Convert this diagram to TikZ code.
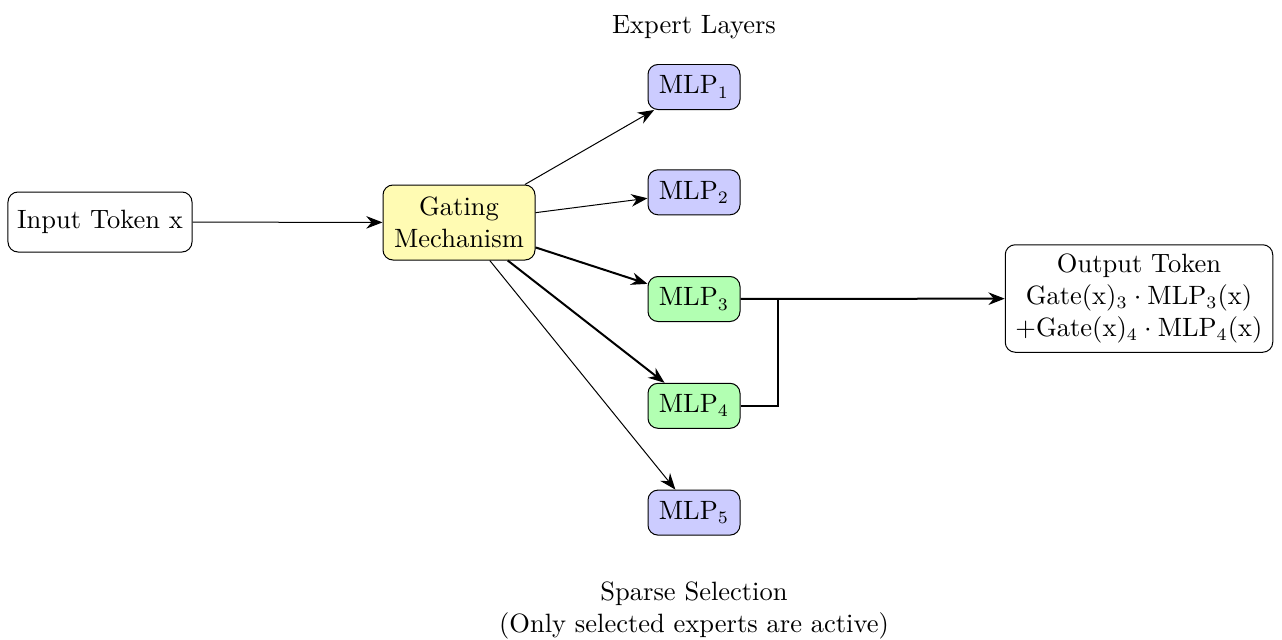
\documentclass[tikz,border=0pt]{standalone}
\usetikzlibrary{arrows.meta}
\begin{document}
\begin{tikzpicture}[x=0.4pt,y=-0.4pt,
  every node/.style={font=\fontsize{10.6pt}{12.7pt}\selectfont},
  box/.style={draw=black, rounded corners=4pt, align=center, inner sep=2pt},
  expert/.style={box, fill=blue!20, minimum width=36.8pt, minimum height=18pt},
  active/.style={box, fill=green!30, minimum width=36.8pt, minimum height=18pt},
  link/.style={-{Stealth[length=6.5pt,width=5pt]}},
  strong/.style={link, thick}]
\useasboundingbox (0,0) rectangle (1282,640);

\node[box, minimum width=73.6pt, minimum height=24pt] (in) at (100,222) {Input Token x};
\node[box, fill=yellow!30, minimum width=60.8pt, minimum height=30pt] (gate) at (459,222.5) {Gating\\Mechanism};

\node (title) at (694,27) {Expert Layers};
\node[expert] (m1) at (694,87) {MLP$_1$};
\node[expert] (m2) at (694,192.3) {MLP$_2$};
\node[active] (m3) at (694,299) {MLP$_3$};
\node[active] (m4) at (694,405.8) {MLP$_4$};
\node[expert] (m5) at (694,512.6) {MLP$_5$};

\node[box, minimum width=107pt, minimum height=43pt] (out) at (1139,298.5)
  {Output Token\\
   Gate(x)$_3\cdot{}$MLP$_3$(x)\\
   +Gate(x)$_4\cdot{}$MLP$_4$(x)};

\node[align=center] (note) at (694,610.5) {Sparse Selection\\(Only selected experts are active)};

\draw[link] (in) -- (gate);
\draw[link] (gate) -- (m1);
\draw[link] (gate) -- (m2);
\draw[strong] (gate) -- (m3);
\draw[strong] (gate) -- (m4);
\draw[link] (gate) -- (m5);

\coordinate (join) at (778,299);
\draw[strong] (m3) -- (out);
\draw[thick] (m4.east) -| (join);
\end{tikzpicture}
\end{document}
